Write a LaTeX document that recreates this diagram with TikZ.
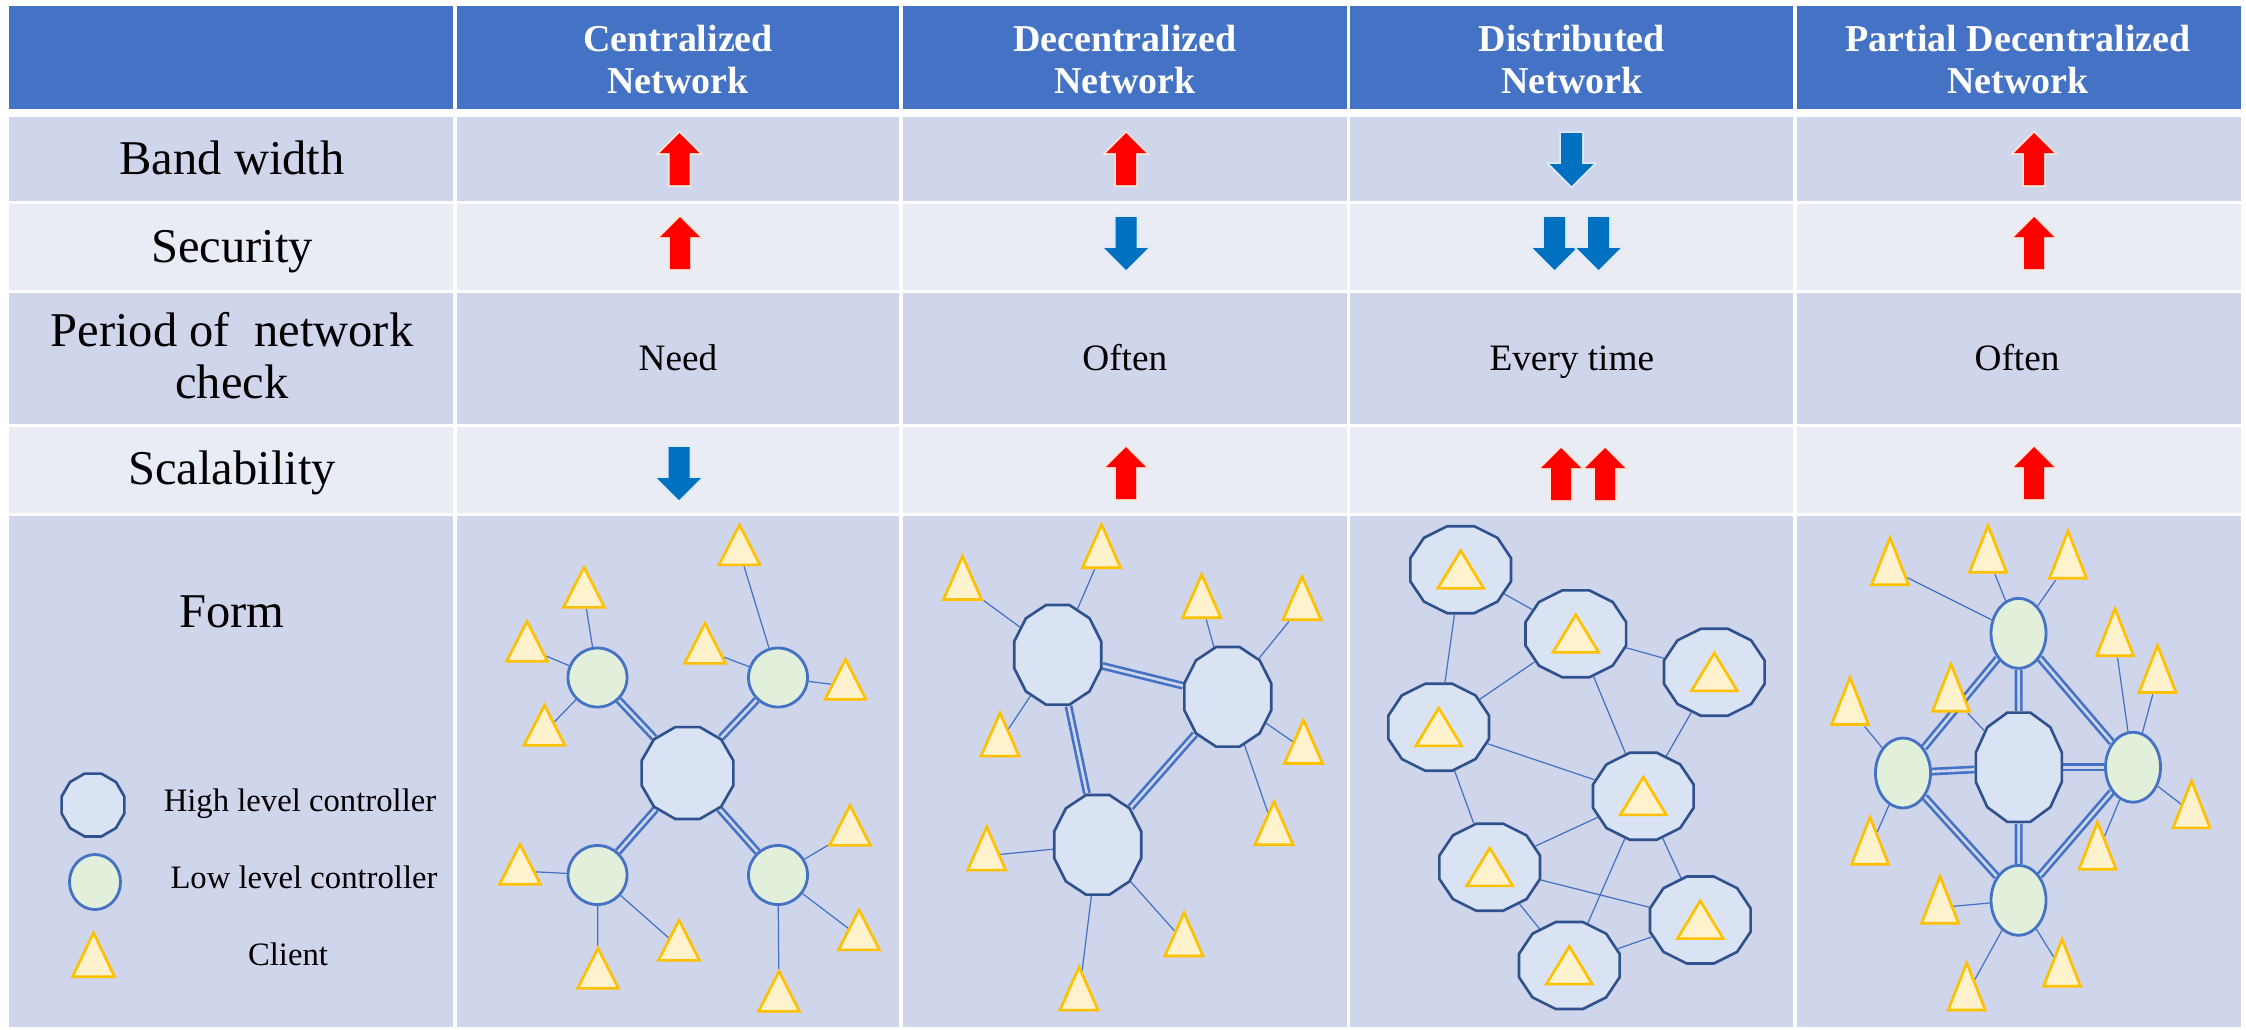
\documentclass[tikz,border=0pt]{standalone}
\usepackage{fontspec}
\setmainfont{Liberation Serif}
\usetikzlibrary{shapes.geometric}
\definecolor{hdrblue}{RGB}{68,114,196}
\definecolor{rowdark}{RGB}{207,213,234}
\definecolor{rowlight}{RGB}{233,235,245}
\definecolor{hifill}{RGB}{218,227,243}
\definecolor{hiedge}{RGB}{47,82,143}
\definecolor{lofill}{RGB}{226,239,218}
\definecolor{clifill}{RGB}{255,242,204}
\definecolor{cliedge}{RGB}{255,192,0}
\definecolor{upred}{RGB}{255,0,0}
\definecolor{upglow}{RGB}{251,229,214}
\definecolor{dnblue}{RGB}{0,112,192}
\definecolor{dnglow}{RGB}{222,235,247}
\pgfdeclarelayer{cells}
\pgfdeclarelayer{links}
\pgfsetlayers{cells,links,main}

\begin{document}
\begin{tikzpicture}[x=0.01cm,y=-0.01cm,
  hdr/.style={text=white,align=center,font=\bfseries\fontsize{10.8}{12.2}\selectfont},
  lab/.style={anchor=base,font=\fontsize{13.8}{14.8}\selectfont},
  val/.style={anchor=base,font=\fontsize{10.6}{12.7}\selectfont},
  leg/.style={anchor=base,font=\fontsize{9.3}{11}\selectfont},
  hic/.style={regular polygon,regular polygon sides=12,inner sep=0pt,
              draw=hiedge,fill=hifill,line width=0.75pt},
  loc/.style={ellipse,inner sep=0pt,draw=hdrblue,fill=lofill,line width=0.8pt},
  cli/.style={regular polygon,regular polygon sides=3,inner sep=0pt,
              draw=cliedge,fill=clifill,line width=0.75pt},
  wire/.style={draw=hdrblue,line width=0.35pt},
  dbl/.style={draw=hdrblue,line width=0.75pt,double=rowdark,double distance=0.75pt},
  uparr/.pic={\fill[upred,preaction={draw=upglow,line width=1pt}]
    (0,-26) -- (20,-6) -- (10,-6) -- (10,26) -- (-10,26) -- (-10,-6) -- (-20,-6) -- cycle;},
  dnarr/.pic={\fill[dnblue,preaction={draw=dnglow,line width=1pt}]
    (0,27) -- (22,5) -- (10.5,5) -- (10.5,-26) -- (-10.5,-26) -- (-10.5,5) -- (-22,5) -- cycle;}]
  \useasboundingbox (0,0) rectangle (2246,1029);

  \begin{pgfonlayer}{cells}
    \fill[white] (0,0) rectangle (2246,1029);
    \fill[hdrblue] (9,6) rectangle (2241,109);
    \fill[rowdark] (9,117) rectangle (2241,201);
    \fill[rowlight] (9,204) rectangle (2241,290);
    \fill[rowdark] (9,293) rectangle (2241,424);
    \fill[rowlight] (9,427) rectangle (2241,513);
    \fill[rowdark] (9,516) rectangle (2241,1027);
    \draw[white,line width=0.9pt] (455,0) -- (455,1029) (901,0) -- (901,1029)
      (1348.5,0) -- (1348.5,1029) (1795,0) -- (1795,1029);
  \end{pgfonlayer}

  \node[hdr] (hc) at (678,59.5) {Centralized\\Network};
  \node[hdr] (hd) at (1124.8,59.5) {Decentralized\\Network};
  \node[hdr] (hs) at (1571.8,59.5) {Distributed\\Network};
  \node[hdr] (hp) at (2018,59.5) {Partial Decentralized\\Network};

  \node[lab] (bw) at (232,174) {Band width};
  \node[lab] (sec) at (232,262) {Security};
  \node[lab,anchor=center,align=center] (per) at (232,356) {Period of~ network\\check};
  \node[lab] (scl) at (232,484) {Scalability};
  \node[lab] (frm) at (232,627) {Form};

  \pic at (679.5,159) {uparr}; \pic at (1126,159) {uparr};
  \pic at (1571.5,159) {dnarr}; \pic at (2034,159) {uparr};
  \pic at (680,243) {uparr}; \pic at (1126,243) {dnarr};
  \pic at (1554.5,243) {dnarr}; \pic at (1598.5,243) {dnarr}; \pic at (2034,243) {uparr};
  \pic at (679,473) {dnarr}; \pic at (1126,473) {uparr};
  \pic at (1561,474) {uparr}; \pic at (1605,474) {uparr}; \pic at (2034,473) {uparr};

  \node[val] (vc) at (678,370) {Need};
  \node[val] (vd) at (1124.8,370) {Often};
  \node[val] (vs) at (1571.8,370) {Every time};
  \node[val] (vp) at (2017,370) {Often};

  \node[hic,minimum size=0.65cm] (lh) at (93,805) {};
  \node[leg] (lht) at (300,811.7) {High level controller};
  \node[loc,minimum width=0.51cm,minimum height=0.55cm] (ll) at (95,882) {};
  \node[leg] (llt) at (304,888) {Low level controller};
  \node[cli,minimum size=0.485cm,yscale=1.21] (lc) at (93.5,962) {};
  \node[leg] (lct) at (288,965) {Client};

  \node[hic,minimum size=0.95cm] (c0) at (687.5,773) {};
  \node[loc,minimum size=0.59cm] (c1) at (597.5,677.5) {};
  \node[loc,minimum size=0.59cm] (c2) at (778,677.5) {};
  \node[loc,minimum size=0.59cm] (c3) at (597.5,875) {};
  \node[loc,minimum size=0.59cm] (c4) at (778,875) {};
  \node[cli,minimum size=0.473cm,yscale=1.13] (ct1) at (584,594) {};
  \node[cli,minimum size=0.473cm,yscale=1.13] (ct2) at (527,648) {};
  \node[cli,minimum size=0.473cm,yscale=1.13] (ct3) at (544.5,732) {};
  \node[cli,minimum size=0.473cm,yscale=1.13] (ct4) at (739.5,551.5) {};
  \node[cli,minimum size=0.473cm,yscale=1.13] (ct5) at (705,650) {};
  \node[cli,minimum size=0.473cm,yscale=1.13] (ct6) at (845.5,686) {};
  \node[cli,minimum size=0.473cm,yscale=1.13] (ct7) at (850,832) {};
  \node[cli,minimum size=0.473cm,yscale=1.13] (ct8) at (859,936.5) {};
  \node[cli,minimum size=0.473cm,yscale=1.13] (ct9) at (779,998) {};
  \node[cli,minimum size=0.473cm,yscale=1.13] (ct10) at (679,947) {};
  \node[cli,minimum size=0.473cm,yscale=1.13] (ct11) at (598,975) {};
  \node[cli,minimum size=0.473cm,yscale=1.13] (ct12) at (520,871) {};

  \node[hic,minimum size=0.9cm,yscale=1.146] (d1) at (1057.7,654.8) {};
  \node[hic,minimum size=0.9cm,yscale=1.146] (d2) at (1227.8,696.8) {};
  \node[hic,minimum size=0.9cm,yscale=1.146] (d3) at (1097.7,844.8) {};
  \node[cli,minimum size=0.44cm,yscale=1.31] (dt1) at (962.5,585) {};
  \node[cli,minimum size=0.44cm,yscale=1.31] (dt2) at (1101.5,553.3) {};
  \node[cli,minimum size=0.44cm,yscale=1.31] (dt3) at (1000,741.7) {};
  \node[cli,minimum size=0.44cm,yscale=1.31] (dt4) at (1201.7,603.3) {};
  \node[cli,minimum size=0.44cm,yscale=1.31] (dt5) at (1302,605.3) {};
  \node[cli,minimum size=0.44cm,yscale=1.31] (dt6) at (1303.5,749) {};
  \node[cli,minimum size=0.44cm,yscale=1.31] (dt7) at (1274,830.3) {};
  \node[cli,minimum size=0.44cm,yscale=1.31] (dt8) at (1184,941.5) {};
  \node[cli,minimum size=0.44cm,yscale=1.31] (dt9) at (1079,995.7) {};
  \node[cli,minimum size=0.44cm,yscale=1.31] (dt10) at (986.7,855.7) {};

  \node[hic,minimum size=0.9cm,xscale=1.157] (s1) at (1460.7,569.7) {};
  \node[hic,minimum size=0.9cm,xscale=1.157] (s2) at (1575.8,633.8) {};
  \node[hic,minimum size=0.9cm,xscale=1.157] (s3) at (1714.3,672.2) {};
  \node[hic,minimum size=0.9cm,xscale=1.157] (s4) at (1438.7,727.2) {};
  \node[hic,minimum size=0.9cm,xscale=1.157] (s5) at (1643.3,796.2) {};
  \node[hic,minimum size=0.9cm,xscale=1.157] (s6) at (1489.7,867.2) {};
  \node[hic,minimum size=0.9cm,xscale=1.157] (s7) at (1700.3,920) {};
  \node[hic,minimum size=0.9cm,xscale=1.157] (s8) at (1569.3,965.5) {};
  \node[cli,minimum size=0.53cm,yscale=0.95] (st1) at (1460.7,575.7) {};
  \node[cli,minimum size=0.53cm,yscale=0.95] (st2) at (1575.8,639.8) {};
  \node[cli,minimum size=0.53cm,yscale=0.95] (st3) at (1714.3,678.2) {};
  \node[cli,minimum size=0.53cm,yscale=0.95] (st4) at (1438.7,733.2) {};
  \node[cli,minimum size=0.53cm,yscale=0.95] (st5) at (1643.3,802.2) {};
  \node[cli,minimum size=0.53cm,yscale=0.95] (st6) at (1489.7,873.2) {};
  \node[cli,minimum size=0.53cm,yscale=0.95] (st7) at (1700.3,926) {};
  \node[cli,minimum size=0.53cm,yscale=0.95] (st8) at (1569.3,971.5) {};

  \node[hic,minimum size=0.89cm,yscale=1.27] (p0) at (2018.8,767.2) {};
  \node[loc,minimum width=0.55cm,minimum height=0.7cm] (p1) at (2018.5,633.3) {};
  \node[loc,minimum width=0.55cm,minimum height=0.7cm] (p2) at (1903,773) {};
  \node[loc,minimum width=0.55cm,minimum height=0.7cm] (p3) at (2133,767.2) {};
  \node[loc,minimum width=0.55cm,minimum height=0.7cm] (p4) at (2018.5,900.3) {};
  \node[cli,minimum size=0.427cm,yscale=1.47] (pt1) at (1890,569) {};
  \node[cli,minimum size=0.427cm,yscale=1.47] (pt2) at (1988,556.7) {};
  \node[cli,minimum size=0.427cm,yscale=1.47] (pt3) at (2068,562.5) {};
  \node[cli,minimum size=0.427cm,yscale=1.47] (pt4) at (2115,640) {};
  \node[cli,minimum size=0.427cm,yscale=1.47] (pt5) at (2157.5,676.8) {};
  \node[cli,minimum size=0.427cm,yscale=1.47] (pt6) at (2191.5,812.2) {};
  \node[cli,minimum size=0.427cm,yscale=1.47] (pt7) at (2097.5,853.5) {};
  \node[cli,minimum size=0.427cm,yscale=1.47] (pt8) at (2062,970.5) {};
  \node[cli,minimum size=0.427cm,yscale=1.47] (pt9) at (1966.7,994.3) {};
  \node[cli,minimum size=0.427cm,yscale=1.47] (pt10) at (1940,907.5) {};
  \node[cli,minimum size=0.427cm,yscale=1.47] (pt11) at (1870,848.5) {};
  \node[cli,minimum size=0.427cm,yscale=1.47] (pt12) at (1850,708.8) {};
  \node[cli,minimum size=0.427cm,yscale=1.47] (pt13) at (1951,695.5) {};

  \begin{pgfonlayer}{links}
    \draw[dbl] (c0) -- (c1); \draw[dbl] (c0) -- (c2);
    \draw[dbl] (c0) -- (c3); \draw[dbl] (c0) -- (c4);
    \draw[wire] (ct1) -- (c1); \draw[wire] (ct2) -- (c1); \draw[wire] (ct3) -- (c1);
    \draw[wire] (ct4) -- (c2); \draw[wire] (ct5) -- (c2); \draw[wire] (ct6) -- (c2);
    \draw[wire] (ct7) -- (c4); \draw[wire] (ct8) -- (c4); \draw[wire] (ct9) -- (c4);
    \draw[wire] (ct10) -- (c3); \draw[wire] (ct11) -- (c3); \draw[wire] (ct12) -- (c3);

    \draw[dbl] (d1) -- (d2); \draw[dbl] (d1) -- (d3); \draw[dbl] (d2) -- (d3);
    \draw[wire] (dt1) -- (d1); \draw[wire] (dt2) -- (d1); \draw[wire] (dt3) -- (d1);
    \draw[wire] (dt4) -- (d2); \draw[wire] (dt5) -- (d2);
    \draw[wire] (dt6) -- (d2); \draw[wire] (dt7) -- (d2);
    \draw[wire] (dt8) -- (d3); \draw[wire] (dt9) -- (d3); \draw[wire] (dt10) -- (d3);

    \draw[wire] (s1) -- (s2); \draw[wire] (s1) -- (s4); \draw[wire] (s2) -- (s3);
    \draw[wire] (s2) -- (s4); \draw[wire] (s2) -- (s5); \draw[wire] (s3) -- (s5);
    \draw[wire] (s4) -- (s5); \draw[wire] (s4) -- (s6); \draw[wire] (s5) -- (s6);
    \draw[wire] (s5) -- (s7); \draw[wire] (s5) -- (s8); \draw[wire] (s6) -- (s7);
    \draw[wire] (s6) -- (s8); \draw[wire] (s7) -- (s8);

    \draw[dbl] (p0) -- (p1); \draw[dbl] (p0) -- (p2);
    \draw[dbl] (p0) -- (p3); \draw[dbl] (p0) -- (p4);
    \draw[dbl] (p1) -- (p2); \draw[dbl] (p1) -- (p3);
    \draw[dbl] (p2) -- (p4); \draw[dbl] (p3) -- (p4);
    \draw[wire] (pt1) -- (p1); \draw[wire] (pt2) -- (p1); \draw[wire] (pt3) -- (p1);
    \draw[wire] (pt4) -- (p3); \draw[wire] (pt5) -- (p3);
    \draw[wire] (pt6) -- (p3); \draw[wire] (pt7) -- (p3);
    \draw[wire] (pt8) -- (p4); \draw[wire] (pt9) -- (p4); \draw[wire] (pt10) -- (p4);
    \draw[wire] (pt11) -- (p2); \draw[wire] (pt12) -- (p2); \draw[wire] (pt13) -- (p0);
  \end{pgfonlayer}
\end{tikzpicture}
\end{document}
